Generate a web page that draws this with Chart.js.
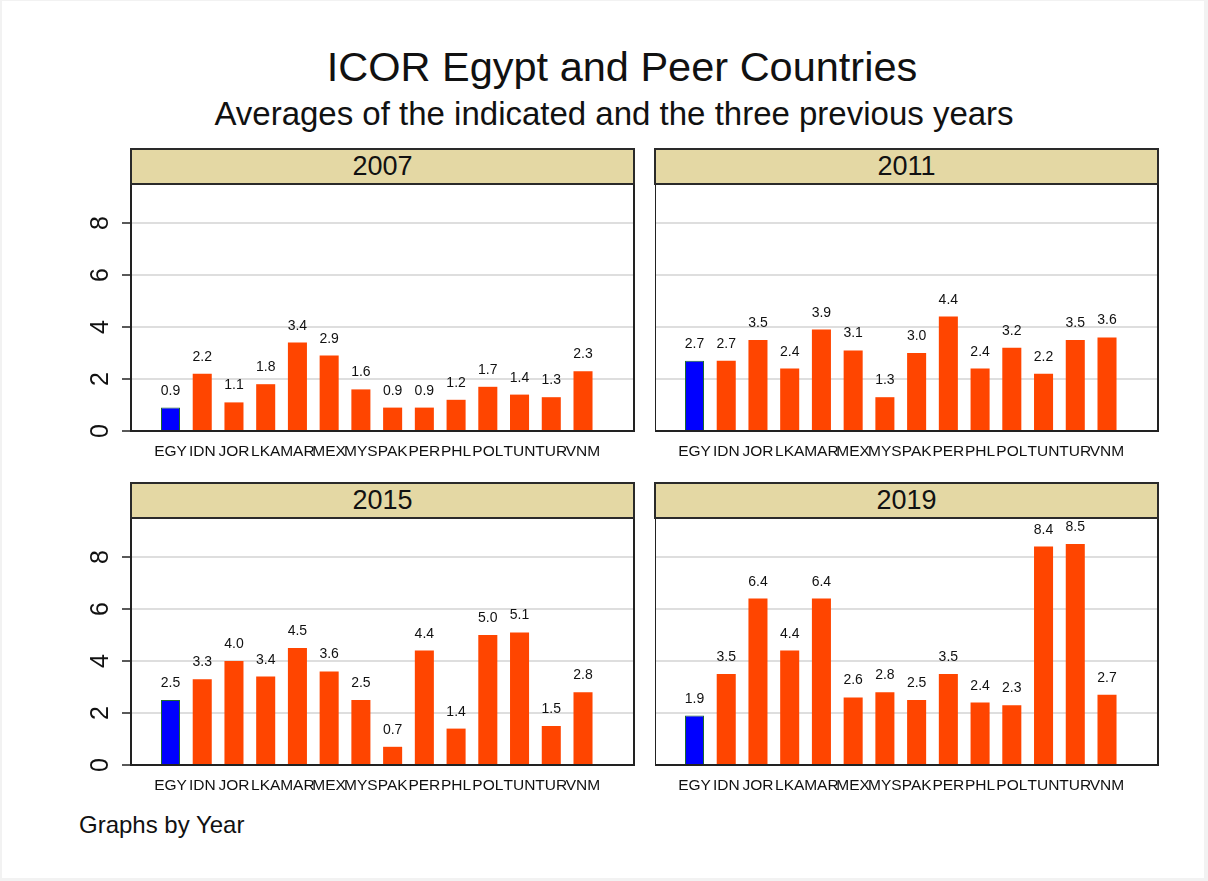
<!DOCTYPE html>
<html>
<head>
<meta charset="utf-8">
<script src="https://cdn.jsdelivr.net/npm/chart.js@4/dist/chart.umd.min.js"></script>
<style>
  body { margin: 0; background: #f2f2f2; font-family: "Liberation Sans", Arial, sans-serif; }
  #page { position: absolute; left: 2px; top: 1px; width: 1202px; height: 877px; background: #fff; }
  .txt { position: absolute; color: #111; white-space: nowrap; }
  .head { position: absolute; box-sizing: border-box; background: #e4d8a4; border: 2px solid #2a2a2a;
          text-align: center; font-size: 27px; color: #111; }
  canvas { position: absolute; }
</style>
</head>
<body>
<div id="page"></div>
<script>
const countries = ['EGY', 'IDN', 'JOR', 'LKA', 'MAR', 'MEX', 'MYS', 'PAK', 'PER', 'PHL', 'POL', 'TUN', 'TUR', 'VNM'];
const years = ['2007', '2011', '2015', '2019'];
const icor2007 = [0.9, 2.2, 1.1, 1.8, 3.4, 2.9, 1.6, 0.9, 0.9, 1.2, 1.7, 1.4, 1.3, 2.3];
const icor2011 = [2.7, 2.7, 3.5, 2.4, 3.9, 3.1, 1.3, 3.0, 4.4, 2.4, 3.2, 2.2, 3.5, 3.6];
const icor2015 = [2.5, 3.3, 4.0, 3.4, 4.5, 3.6, 2.5, 0.7, 4.4, 1.4, 5.0, 5.1, 1.5, 2.8];
const icor2019 = [1.9, 3.5, 6.4, 4.4, 6.4, 2.6, 2.8, 2.5, 3.5, 2.4, 2.3, 8.4, 8.5, 2.7];
const yTicks = [0, 2, 4, 6, 8];

const FONT = '"Liberation Sans", Arial, sans-serif';
const page = document.getElementById('page');

function addText(str, left, top, width, size, align) {
  const d = document.createElement('div');
  d.className = 'txt';
  d.textContent = str;
  d.style.left = left + 'px';
  d.style.top = top + 'px';
  d.style.width = width + 'px';
  d.style.fontSize = size + 'px';
  d.style.textAlign = align || 'center';
  page.appendChild(d);
}

addText('ICOR Egypt and Peer Countries', 0, 42, 1240, 41.5);
addText('Averages of the indicated and the three previous years', -8, 94, 1240, 33);
addText('Graphs by Year', 77, 810, 300, 24, 'left');

// frame around plot, value labels, rotated y labels
const panelDeco = {
  id: 'panelDeco',
  afterDatasetsDraw(chart) {
    const ctx = chart.ctx;
    const a = chart.chartArea;
    const meta = chart.getDatasetMeta(0);
    const vals = chart.data.datasets[0].data;
    ctx.save();
    ctx.fillStyle = '#111';
    ctx.font = '14px ' + FONT;
    ctx.textAlign = 'center';
    ctx.textBaseline = 'alphabetic';
    meta.data.forEach((bar, i) => {
      ctx.fillText(vals[i].y.toFixed(1), bar.x, bar.y - 13);
    });
    ctx.strokeStyle = '#222';
    ctx.lineWidth = 2;
    ctx.strokeRect(a.left, a.top, a.right - a.left, a.bottom - a.top);
    if (chart.options.showYLabels) {
      const ys = chart.scales.y;
      ctx.font = '25px ' + FONT;
      ctx.textBaseline = 'middle';
      yTicks.forEach(v => {
        ctx.save();
        ctx.translate(a.left - 30, ys.getPixelForValue(v));
        ctx.rotate(-Math.PI / 2);
        ctx.fillText(String(v), 0, 0);
        ctx.restore();
      });
    }
    ctx.restore();
  }
};

function makePanel(year, values, px, py, withAxis) {
  // px: plot left, py: header top
  const plotW = 503, headH = 36, plotH = 247;
  const axisW = withAxis ? 59 : 0;
  const canvas = document.createElement('canvas');
  const cw = plotW + axisW + 10;
  const ch = plotH + 34;
  canvas.width = cw; canvas.height = ch;
  canvas.style.left = (px - axisW) + 'px';
  canvas.style.top = (py + headH) + 'px';
  canvas.style.width = cw + 'px';
  canvas.style.height = ch + 'px';
  page.appendChild(canvas);

  const head = document.createElement('div');
  head.className = 'head';
  head.style.left = (px - 1) + 'px';
  head.style.top = py + 'px';
  head.style.width = (plotW + 2) + 'px';
  head.style.height = (headH + 1) + 'px';
  head.style.lineHeight = (headH - 4) + 'px';
  head.textContent = year;
  page.appendChild(head);

  new Chart(canvas, {
    type: 'bar',
    data: {
      datasets: [{
        data: countries.map((c, i) => ({ x: i, y: values[i] })),
        backgroundColor: countries.map(c => c === 'EGY' ? '#0000ff' : '#ff4500'),
        borderColor: countries.map(c => c === 'EGY' ? '#1d6b2a' : '#ff4500'),
        borderWidth: countries.map(c => c === 'EGY' ? 1 : 0),
        categoryPercentage: 1,
        barPercentage: 0.6
      }]
    },
    options: {
      responsive: false,
      animation: false,
      showYLabels: withAxis,
      layout: { padding: { left: 0, right: 10, top: 0, bottom: 0 } },
      plugins: { legend: { display: false }, tooltip: { enabled: false } },
      scales: {
        x: {
          type: 'linear',
          min: -1.245,
          max: 14.607,
          offset: false,
          grid: { display: false },
          border: { display: false },
          afterBuildTicks: s => { s.ticks = countries.map((c, i) => ({ value: i })); },
          afterFit: s => { s.height = 34; },
          ticks: {
            autoSkip: false,
            maxRotation: 0,
            minRotation: 0,
            padding: 3,
            color: '#111',
            font: { family: FONT, size: 15.5 },
            callback: v => countries[v]
          }
        },
        y: {
          min: 0,
          max: 9.5,
          afterFit: s => { s.width = axisW; },
          border: { display: false },
          grid: {
            color: '#dedede',
            lineWidth: 2,
            drawTicks: withAxis,
            tickLength: 9,
            tickColor: '#222',
            tickWidth: 1.5
          },
          ticks: {
            display: false,
            stepSize: 2,
            includeBounds: false
          }
        }
      }
    },
    plugins: [panelDeco]
  });
}

const allValues = [icor2007, icor2011, icor2015, icor2019];
const spots = [[129, 147, true], [653, 147, false], [129, 481, true], [653, 481, false]];
years.forEach((y, k) => makePanel(y, allValues[k], spots[k][0], spots[k][1], spots[k][2]));
</script>
</body>
</html>
